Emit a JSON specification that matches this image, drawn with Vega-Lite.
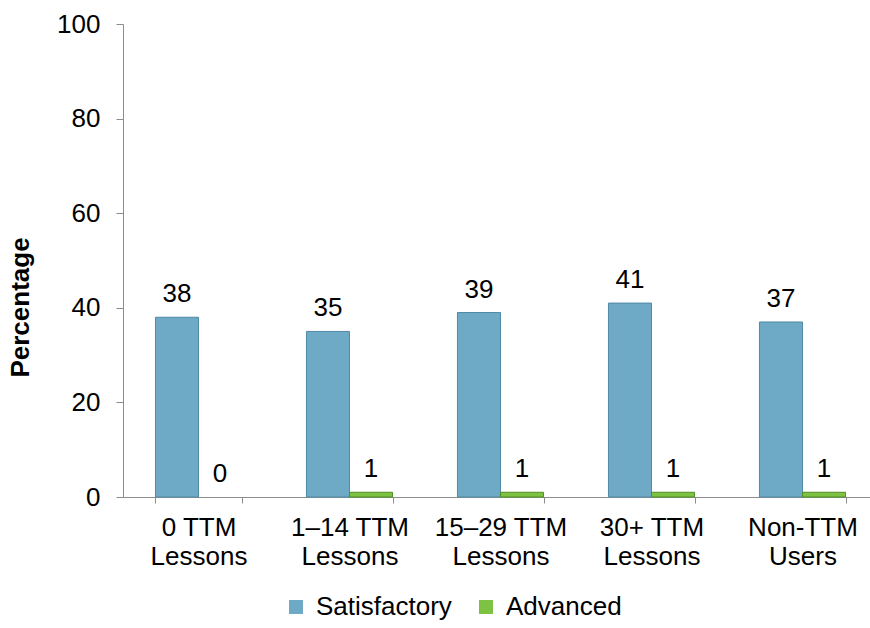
{
  "$schema": "https://vega.github.io/schema/vega-lite/v6.json",
  "autosize": "none",
  "width": 747,
  "height": 473,
  "padding": {"left": 123, "top": 24, "right": 0, "bottom": 131},
  "background": "white",
  "config": {
    "font": "Liberation Sans",
    "view": {"stroke": null},
    "axis": {"labelFont": "Liberation Sans", "titleFont": "Liberation Sans", "labelColor": "black", "titleColor": "black", "domainColor": "#8c8c8c", "tickColor": "#8c8c8c", "grid": false}
  },
  "data": {
    "values": [
      {"group": "0 TTM Lessons", "level": "Satisfactory", "pct": 38},
      {"group": "0 TTM Lessons", "level": "Advanced", "pct": 0},
      {"group": "1–14 TTM Lessons", "level": "Satisfactory", "pct": 35},
      {"group": "1–14 TTM Lessons", "level": "Advanced", "pct": 1},
      {"group": "15–29 TTM Lessons", "level": "Satisfactory", "pct": 39},
      {"group": "15–29 TTM Lessons", "level": "Advanced", "pct": 1},
      {"group": "30+ TTM Lessons", "level": "Satisfactory", "pct": 41},
      {"group": "30+ TTM Lessons", "level": "Advanced", "pct": 1},
      {"group": "Non-TTM Users", "level": "Satisfactory", "pct": 37},
      {"group": "Non-TTM Users", "level": "Advanced", "pct": 1}
    ]
  },
  "encoding": {
    "x": {
      "field": "group", "type": "nominal",
      "sort": ["0 TTM Lessons", "1–14 TTM Lessons", "15–29 TTM Lessons", "30+ TTM Lessons", "Non-TTM Users"],
      "scale": {"range": [0, 755], "paddingInner": 0.43, "paddingOuter": 0.215},
      "axis": {
        "title": null, "labelAngle": 0, "labelFontSize": 26, "labelLineHeight": 29,
        "labelPadding": 11, "tickSize": 6, "tickBand": "extent", "labelBaseline": "top",
        "labelExpr": "datum.label == 'Non-TTM Users' ? ['Non-TTM', 'Users'] : (indexof(datum.label, ' Lessons') > 0 ? [replace(datum.label, ' Lessons', ''), 'Lessons'] : '')"
      }
    },
    "xOffset": {"field": "level", "type": "nominal", "sort": ["Satisfactory", "Advanced"], "scale": {"paddingInner": 0, "paddingOuter": 0}},
    "y": {
      "field": "pct", "type": "quantitative",
      "scale": {"domain": [0, 100], "nice": false},
      "axis": {
        "title": "Percentage", "titleFontSize": 26, "titleFontWeight": "bold",
        "titleAngle": -90, "titleX": -103, "titleY": 283, "titleAlign": "center", "titleBaseline": "middle",
        "values": [0, 20, 40, 60, 80, 100], "labelFontSize": 26, "tickSize": 7, "labelPadding": 16
      }
    }
  },
  "layer": [
    {
      "mark": {"type": "bar", "strokeWidth": 1},
      "encoding": {
        "color": {
          "field": "level", "type": "nominal",
          "sort": ["Satisfactory", "Advanced"],
          "scale": {"domain": ["Satisfactory", "Advanced"], "range": ["#6ea9c5", "#7dc242"]},
          "legend": {
            "title": null, "orient": "none", "direction": "horizontal",
            "legendX": 160, "legendY": 570,
            "symbolType": "square", "symbolSize": 196, "symbolStrokeWidth": 0,
            "labelFontSize": 26, "labelFont": "Liberation Sans", "labelColor": "black",
            "labelOffset": 7, "columnPadding": 21
          }
        },
        "stroke": {
          "field": "level", "type": "nominal",
          "scale": {"domain": ["Satisfactory", "Advanced"], "range": ["#4f8aa6", "#4f8f22"]},
          "legend": null
        },
        "strokeOpacity": {"condition": {"test": "datum.pct > 0", "value": 1}, "value": 0}
      }
    },
    {
      "mark": {"type": "text", "fontSize": 26, "baseline": "alphabetic", "dy": -15, "color": "black"},
      "encoding": {"text": {"field": "pct", "type": "quantitative"}}
    }
  ]
}
